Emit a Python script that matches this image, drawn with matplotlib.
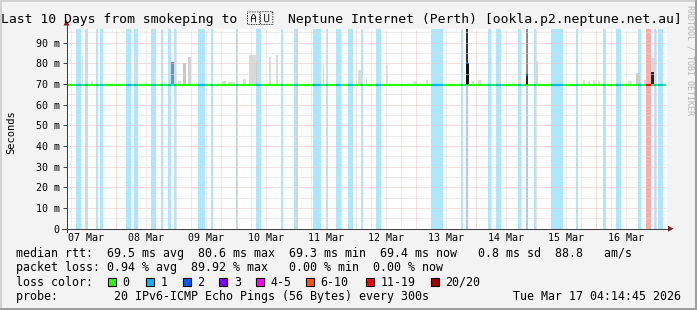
import matplotlib
matplotlib.use("Agg")
import matplotlib.pyplot as plt
import matplotlib.dates as mdates
from matplotlib.lines import Line2D
from matplotlib.patches import Rectangle, Polygon
from matplotlib import font_manager
from matplotlib.ft2font import FT2Font
import pandas as pd

plt.rcParams['font.family'] = ['DejaVu Sans Mono', 'DejaVu Sans']

# ---------------- data ----------------
title_head = "Last 10 Days from smokeping to"
title_flag = "\U0001F1E6\U0001F1FA"
title_tail = "Neptune Internet (Perth) [ookla.p2.neptune.net.au]"
period_start = "2026-03-07 04:14:45"
period_end = "2026-03-17 04:14:45"
typical_median = 69.5
smoke_floor = 69.6

# loss events: start, duration (min), lost pings of 20, median rtt during event
loss_start = ["03-07 08:10", "03-07 11:50", "03-07 16:10", "03-07 17:50", "03-08 04:10",
              "03-08 07:05", "03-08 14:00", "03-08 18:00", "03-08 20:50", "03-08 23:05",
              "03-09 08:55", "03-09 14:10", "03-09 23:55", "03-10 08:10", "03-10 18:00",
              "03-10 23:05", "03-11 06:50", "03-11 12:00", "03-11 16:10", "03-11 20:55",
              "03-12 02:10", "03-12 08:10", "03-13 06:10", "03-13 18:00", "03-13 20:00",
              "03-14 04:55", "03-14 08:10", "03-14 16:55", "03-14 20:00", "03-14 23:05",
              "03-15 06:10", "03-15 16:05", "03-16 02:50", "03-16 08:10", "03-16 16:55",
              "03-16 20:10", "03-16 23:05", "03-17 00:55"]
loss_minutes = [110, 50, 50, 50, 110, 115, 120, 50, 80, 60,
                175, 50, 55, 112, 50, 105, 190, 50, 112, 112,
                50, 112, 290, 50, 50, 65, 112, 65, 50, 58,
                290, 40, 80, 112, 72, 120, 58, 120]
loss_pings = [1, 1, 1, 1, 1, 1, 1, 1, 1, 1,
              1, 1, 1, 1, 1, 1, 1, 1, 1, 1,
              1, 1, 1, 1, 2, 1, 1, 1, 2, 1,
              1, 1, 1, 1, 1, 18, 1, 1]
loss_median = [69.5] * 24 + [80.3] + [69.5] * 3 + [74.5] + [69.5] * 9

# smoke (ping spread above the median): start, duration (min), max rtt, darkness
smoke_start = ["03-07 04:25", "03-07 10:15", "03-07 14:08", "03-07 18:25", "03-08 07:03",
               "03-08 12:08", "03-08 19:03", "03-08 22:08", "03-09 00:56", "03-09 02:48",
               "03-09 04:56", "03-09 08:08", "03-09 18:32", "03-09 20:56", "03-10 02:48",
               "03-10 05:03", "03-10 08:08", "03-10 13:03", "03-10 16:00", "03-11 10:39",
               "03-12 00:54", "03-12 03:54", "03-12 12:03", "03-12 22:56", "03-13 04:08",
               "03-13 20:08", "03-13 20:00", "03-13 22:15", "03-14 00:48", "03-14 09:03",
               "03-14 16:56", "03-14 20:08", "03-14 20:08", "03-14 23:44", "03-15 18:56",
               "03-15 20:56", "03-15 22:56", "03-16 00:56", "03-16 12:56", "03-16 16:08",
               "03-16 19:03", "03-16 22:08", "03-16 22:08"]
smoke_minutes = [30, 34, 40, 24, 48, 24, 58, 55, 65, 80,
                 65, 30, 90, 168, 80, 200, 30, 65, 55, 40,
                 72, 24, 36, 90, 48, 48, 72, 55, 80, 65,
                 65, 48, 48, 65, 48, 48, 72, 48, 96, 96,
                 58, 55, 55]
smoke_top = [84.6, 83.6, 71.6, 71.6, 83.6, 71.0, 71.0, 80.5, 71.6, 80.0,
             83.2, 71.0, 71.6, 71.0, 72.4, 84.0, 80.0, 83.2, 84.0, 79.0,
             77.0, 73.0, 79.0, 71.5, 72.0, 96.5, 80.3, 71.5, 72.0, 81.6,
             72.0, 96.5, 75.0, 81.2, 72.0, 71.5, 72.0, 71.5, 71.5, 75.2,
             71.8, 82.8, 76.0]
smoke_dark = [0.14, 0.14, 0.14, 0.12, 0.14, 0.12, 0.12, 0.45, 0.14, 0.22,
              0.18, 0.12, 0.14, 0.12, 0.14, 0.15, 0.2, 0.14, 0.14, 0.14,
              0.14, 0.14, 0.12, 0.12, 0.14, 0.8, 0.93, 0.14, 0.14, 0.14,
              0.14, 0.45, 0.85, 0.14, 0.12, 0.12, 0.12, 0.12, 0.12, 0.2,
              0.14, 0.14, 0.85]

y_ticks = [0, 10, 20, 30, 40, 50, 60, 70, 80, 90]
y_tick_labels = ["0", "10 m", "20 m", "30 m", "40 m", "50 m", "60 m", "70 m", "80 m", "90 m"]
y_max = 96.5
day_labels = ["07 Mar", "08 Mar", "09 Mar", "10 Mar", "11 Mar",
              "12 Mar", "13 Mar", "14 Mar", "15 Mar", "16 Mar"]

loss_levels = ["0", "1", "2", "3", "4-5", "6-10", "11-19", "20/20"]
loss_level_max = [0, 1, 2, 3, 5, 10, 19, 20]
loss_level_colors = ['#26ff00', '#00b8ff', '#0059ff', '#7e00ff',
                     '#ff00ff', '#ff5500', '#ff0000', '#a10000']

line_rtt = "median rtt:  69.5 ms avg  80.6 ms max  69.3 ms min  69.4 ms now   0.8 ms sd  88.8   am/s"
line_loss = "packet loss: 0.94 % avg  89.92 % max   0.00 % min  0.00 % now"
line_probe = "probe:        20 IPv6-ICMP Echo Pings (56 Bytes) every 300s"
stamp = "Tue Mar 17 04:14:45 2026"
watermark = "RRDTOOL / TOBI OETIKER"

# ---------------- drawing ----------------
W, H, DPI = 697, 310, 100
fig = plt.figure(figsize=(W / DPI, H / DPI), dpi=DPI, facecolor='#f3f3f3')


def fp(x, y):
    return (x / W, 1 - y / H)


AX_L, AX_R, AX_T, AX_B = 66.5, 666.5, 29.3, 228.7
ax = fig.add_axes([AX_L / W, 1 - AX_B / H, (AX_R - AX_L) / W, (AX_B - AX_T) / H])
ax.set_facecolor('white')
for s in ax.spines.values():
    s.set_visible(False)

t0 = mdates.date2num(pd.Timestamp(period_start).to_pydatetime())
t1 = mdates.date2num(pd.Timestamp(period_end).to_pydatetime())
ax.set_xlim(t0, t1)
ax.set_ylim(0, y_max)


def tnum(s):
    return mdates.date2num(pd.Timestamp("2026-" + s).to_pydatetime())


def level_of(n):
    for i, m in enumerate(loss_level_max):
        if n <= m:
            return i
    return len(loss_level_max) - 1


# loss background
ev = sorted(zip([tnum(s) for s in loss_start], loss_minutes, loss_pings, loss_median))
for st, mins, n, med in ev:
    ax.axvspan(st, st + mins / 1440.0, color=loss_level_colors[level_of(n)],
               alpha=0.33, lw=0, zorder=1)

# smoke
for st, mins, top, dk in zip(smoke_start, smoke_minutes, smoke_top, smoke_dark):
    g = 1 - dk
    ax.bar(tnum(st), top - smoke_floor, width=mins / 1440.0, bottom=smoke_floor,
           align='edge', color=(g, g, g), lw=0, zorder=2)

# grid
for y in range(5, 96, 5):
    major = (y % 10 == 0)
    ax.axhline(y, color='#eec0c0' if major else '#dadada', lw=0.72,
               ls=(0, (1, 1)), zorder=3)
for t in pd.date_range("2026-03-07 06:00", "2026-03-17 00:00", freq="6h"):
    major = (t.hour == 0)
    ax.axvline(mdates.date2num(t.to_pydatetime()), color='#eec0c0' if major else '#dadada',
               lw=0.72, ls=(0, (1, 1)), zorder=3)

# median line, coloured by loss
cur = t0
for st, mins, n, med in ev:
    en = min(st + mins / 1440.0, t1)
    if st > cur:
        ax.hlines(typical_median, cur, st, color=loss_level_colors[0], lw=1.6, zorder=4)
    ax.hlines(med, st, en, color=loss_level_colors[level_of(n)], lw=1.6, zorder=4)
    cur = en
if cur < t1:
    ax.hlines(typical_median, cur, t1, color=loss_level_colors[0], lw=1.6, zorder=4)

# ticks / labels
ax.set_yticks(y_ticks, y_tick_labels)
ax.tick_params(axis='y', length=3, width=0.7, color='#404040', pad=1.8,
               labelsize=7.2, labelcolor='black')
noons = [mdates.date2num(d.to_pydatetime()) for d in
         pd.date_range("2026-03-07 12:00", periods=len(day_labels), freq="D")]
ax.set_xticks(noons, day_labels)
ax.tick_params(axis='x', length=0, pad=3.2, labelsize=7.2, labelcolor='black')

# axes lines with arrows
axc = '#404040'
arc = '#8b1a1a'
fig.add_artist(Line2D(*zip(fp(AX_L, 232), fp(AX_L, 23)), transform=fig.transFigure,
                      color=axc, lw=0.75))
fig.add_artist(Line2D(*zip(fp(62, AX_B), fp(669, AX_B)), transform=fig.transFigure,
                      color=axc, lw=0.75))
fig.add_artist(Polygon([fp(63.5, 25.5), fp(69.5, 25.5), fp(66.5, 20)], closed=True,
                       transform=fig.transFigure, color=arc, lw=0))
fig.add_artist(Polygon([fp(668, 225.7), fp(668, 231.7), fp(673.5, 228.7)], closed=True,
                       transform=fig.transFigure, color=arc, lw=0))


# ---- title (flag glyphs: use an installed family if one has them) ----
def family_with(chars):
    cps = [ord(c) for c in chars]
    for f in font_manager.fontManager.ttflist:
        try:
            cmap = FT2Font(f.fname).get_charmap()
        except Exception:
            continue
        if all(cp in cmap for cp in cps):
            return f.name
    return None


tfs = 9.46
ty = 19.5
fig.text(*fp(1, ty), title_head, ha='left', va='center', fontsize=tfs, color='black')
flag_family = family_with(title_flag)
if flag_family:
    fig.text(*fp(260, ty), title_flag, ha='center', va='center', fontsize=tfs,
             family=[flag_family, 'DejaVu Sans'])
else:
    for i, ch in enumerate(title_flag):
        bx = 243 + i * 18
        xf, yf = fp(bx, 25.5)
        fig.add_artist(Rectangle((xf, yf), 15 / W, 11.5 / H, transform=fig.transFigure,
                                 fill=False, edgecolor='black', lw=0.7))
fig.text(*fp(682, ty), title_tail, ha='right', va='center', fontsize=tfs, color='black')

fig.text(*fp(10.8, 132), "Seconds", rotation=90, ha='center', va='center',
         fontsize=7.5, color='black')
fig.text(*fp(690, 5), watermark, rotation=270, ha='center', va='top',
         fontsize=6, color='#b4b4b4')

fs = 8.4
fig.text(*fp(16, 253.5), line_rtt, ha='left', va='center', fontsize=fs)
fig.text(*fp(16, 267.8), line_loss, ha='left', va='center', fontsize=fs)
fig.text(*fp(16, 282), "loss color:", ha='left', va='center', fontsize=fs)
box_x = [108, 145.7, 182.7, 219.3, 256, 306, 365.7, 430.7]
for bx, lab, col in zip(box_x, loss_levels, loss_level_colors):
    x0, y0 = fp(bx, 286)
    fig.add_artist(Rectangle((x0, y0), 8 / W, 8 / H, transform=fig.transFigure,
                             facecolor=col, edgecolor='black', lw=0.8))
    fig.text(*fp(bx + 14.5, 282), lab, ha='left', va='center', fontsize=fs)
fig.text(*fp(16, 296.2), line_probe, ha='left', va='center', fontsize=fs)
fig.text(*fp(681, 296.2), stamp, ha='right', va='center', fontsize=fs)

# frame
for (x, y, w, h, c) in [(0, 0, W, 2, '#d2d2d2'), (0, 0, 2, H, '#d2d2d2'),
                        (0, H - 2, W, 2, '#9e9e9e'), (W - 2, 0, 2, H, '#9e9e9e')]:
    xf, yf = fp(x, y + h)
    fig.add_artist(Rectangle((xf, yf), w / W, h / H, transform=fig.transFigure,
                             facecolor=c, lw=0))

fig.savefig("out.png", dpi=DPI, facecolor=fig.get_facecolor())
